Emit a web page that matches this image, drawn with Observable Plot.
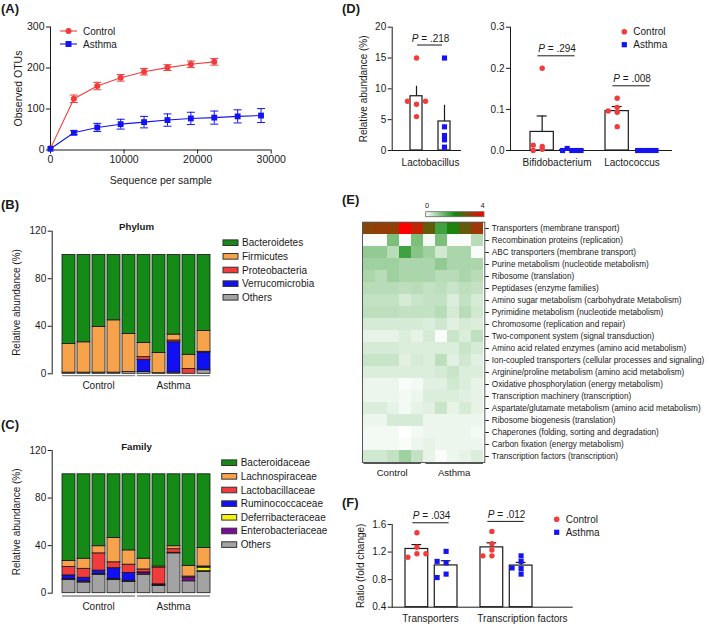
<!DOCTYPE html>
<html>
<head>
<meta charset="utf-8">
<script src="https://cdn.jsdelivr.net/npm/d3@7"></script>
<script src="https://cdn.jsdelivr.net/npm/@observablehq/plot@0.6"></script>
<style>
  html, body { margin: 0; padding: 0; background: #fff; }
  #root { position: relative; width: 709px; height: 626px; overflow: hidden; background: #fff; }
</style>
</head>
<body>
<div id="root"></div>
<script>
// ================= DATA =================
// (A) rarefaction curves
const rarefactionDepth = [0, 3180, 6360, 9540, 12720, 15900, 19080, 22260, 25440, 28620];
const controlOTUs    = [4, 125, 156, 176, 191, 201, 209, 215];
const controlOTUsSEM = [0, 9, 9, 8, 8, 7, 8, 8];
const asthmaOTUs     = [3, 42, 55, 63, 68, 73, 77, 79, 82, 84];
const asthmaOTUsSEM  = [0, 5, 10, 12, 14, 15, 15, 16, 16, 17];

// samples (5 control + 5 asthma)
const samples = ["C1", "C2", "C3", "C4", "C5", "A1", "A2", "A3", "A4", "A5"];
const groupNames = ["Control", "Asthma"];

// (B) phylum composition (%)
const phylumTaxa = ["Bacteroidetes", "Firmicutes", "Proteobacteria", "Verrucomicrobia", "Others"];
const phylumColors = ["#168a16", "#f7a34c", "#f23c3c", "#1010f2", "#a3a3a3"];
const bacteroidetes   = [75, 73.5, 60.5, 55, 66.5, 74, 82.5, 67, 84, 64];
const firmicutes      = [24, 25.5, 38.5, 44, 32, 12, 17, 5, 12, 17.5];
const proteobacteria  = [0, 0, 0, 0, 0, 2.5, 0, 1.5, 4, 0.5];
const verrucomicrobia = [0, 0, 0, 0, 0, 10, 0, 25.5, 0, 15];
const phylumOthers    = [1, 1, 1, 1, 1.5, 1.5, 0.5, 1, 0, 3];

// (C) family composition (%)
const familyTaxa = ["Bacteroidaceae", "Lachnospiraceae", "Lactobacillaceae", "Ruminococcaceae", "Deferribacteraceae", "Enterobacteriaceae", "Others"];
const familyColors = ["#168a16", "#f7a34c", "#f23c3c", "#1010f2", "#f2f20c", "#7a0c9c", "#a3a3a3"];
const bacteroidaceae     = [73, 71, 60.5, 53.5, 64, 71, 77.5, 60.5, 77, 62];
const lachnospiraceae    = [5, 8.5, 6, 20.5, 12, 9, 1, 2.5, 9, 15.5];
const lactobacillaceae   = [7, 7.5, 14.5, 5, 7, 2.5, 14, 3, 1, 0.5];
const ruminococcaceae    = [3, 3, 3, 9, 6.5, 0.5, 0.5, 0, 0, 0.5];
const deferribacteraceae = [0, 0, 0, 0, 0, 0, 0, 0, 0, 3];
const enterobacteriaceae = [1, 1, 0.5, 1, 1, 1.5, 1, 0.5, 3, 0.5];
const familyOthers       = [11, 9, 15.5, 11, 9.5, 15.5, 6, 33.5, 10, 18];

// (D) genus relative abundance (%), per mouse
const genusLeft = ["Lactobacillus"];
const lactobacillusControl = [15, 7.5, 8, 8, 5.5];
const lactobacillusAsthma  = [15, 3.84, 2.43, 1.73, 0.54];
const lactobacillusP = [".218"];
const genusRight = ["Bifidobacterium", "Lactococcus"];
const bifidobacteriumControl = [0.2, 0.01, 0.013, 0.003, 0.0];
const bifidobacteriumAsthma  = [0, 0.005, 0, 0, 0];
const lactococcusControl     = [0.127, 0.093, 0.105, 0.096, 0.058];
const lactococcusAsthma      = [0, 0, 0, 0, 0];
const genusRightP = [".294", ".008"];

// (E) predicted pathway heatmap (rows x samples)
const pathways = [
  "Transporters (membrane transport)",
  "Recombination proteins (replication)",
  "ABC transporters (membrane transport)",
  "Purine metabolism (nucleotide metabolism)",
  "Ribosome (translation)",
  "Peptidases (enzyme families)",
  "Amino sugar metabolism (carbohydrate Metabolism)",
  "Pyrimidine metabolism (nucleotide metabolism)",
  "Chromosome (replication and repair)",
  "Two-component system (signal transduction)",
  "Amino acid related enzymes (amino acid metabolism)",
  "Ion-coupled transporters (cellular processes and signaling)",
  "Arginine/proline metabolism (amino acid metabolism)",
  "Oxidative phosphorylation (energy metabolism)",
  "Transcription machinery (transcription)",
  "Aspartate/glutamate metabolism (amino acid metabolism)",
  "Ribosome biogenesis (translation)",
  "Chaperones (folding, sorting and degradation)",
  "Carbon fixation (energy metabolism)",
  "Transcription factors (transcription)"
];
const pathwayScores = [
  [3.0, 3.1, 3.1, 4.0, 3.5, 2.7, 1.6, 2.1, 2.7, 3.2],
  [0.05, 0.05, 1.1, 0.05, 1.1, 0.1, 1.1, 0.05, 0.05, 0.6],
  [0.9, 0.9, 0.6, 1.6, 1.0, 0.8, 0.4, 0.7, 0.7, 0.05],
  [0.8, 0.8, 0.8, 0.7, 0.7, 0.7, 0.9, 0.7, 0.7, 0.7],
  [0.7, 0.6, 0.8, 0.7, 0.7, 0.7, 0.6, 0.6, 0.7, 0.6],
  [0.6, 0.6, 0.6, 0.55, 0.6, 0.5, 0.55, 0.45, 0.55, 0.5],
  [0.5, 0.5, 0.5, 0.35, 0.45, 0.5, 0.5, 0.3, 0.5, 0.35],
  [0.55, 0.55, 0.55, 0.5, 0.5, 0.5, 0.6, 0.35, 0.6, 0.4],
  [0.35, 0.35, 0.35, 0.35, 0.35, 0.3, 0.4, 0.25, 0.35, 0.3],
  [0.2, 0.2, 0.2, 0.3, 0.2, 0.35, 0.05, 0.45, 0.3, 0.55],
  [0.35, 0.35, 0.35, 0.3, 0.3, 0.3, 0.3, 0.3, 0.45, 0.35],
  [0.45, 0.45, 0.45, 0.25, 0.35, 0.3, 0.55, 0.25, 0.4, 0.25],
  [0.3, 0.3, 0.3, 0.3, 0.3, 0.3, 0.35, 0.45, 0.3, 0.3],
  [0.15, 0.15, 0.15, 0.05, 0.1, 0.25, 0.25, 0.4, 0.3, 0.2],
  [0.15, 0.15, 0.15, 0.1, 0.15, 0.3, 0.3, 0.3, 0.25, 0.2],
  [0.3, 0.3, 0.2, 0.1, 0.2, 0.25, 0.45, 0.2, 0.35, 0.2],
  [0.15, 0.15, 0.35, 0.35, 0.35, 0.15, 0.15, 0.15, 0.15, 0.15],
  [0.1, 0.1, 0.1, 0.0, 0.1, 0.15, 0.15, 0.15, 0.15, 0.1],
  [0.1, 0.1, 0.1, 0.05, 0.15, 0.2, 0.15, 0.15, 0.15, 0.15],
  [0.4, 0.4, 0.5, 0.8, 0.5, 0.2, 0.05, 0.15, 0.2, 0.3]
];

// (F) fold change ratios
const geneSets = ["Transporters", "Transcription factors"];
const transportersControl = [1.48, 1.27, 1.175, 1.125, 1.175];
const transportersAsthma  = [1.21, 1.045, 1.065, 0.88, 0.83];
const tfControl = [1.5, 1.32, 1.23, 1.145, 1.145];
const tfAsthma  = [1.145, 1.065, 0.96, 0.97, 0.88];
const geneSetP = [".034", ".012"];

// ================= HELPERS =================
const FONT = 'Arial, "Liberation Sans", Helvetica, sans-serif';
const RED = "#f23c3c", BLUE = "#1414f0", INK = "#1a1a1a";
const root = document.getElementById("root");
const baseStyle = {background: "transparent", fontFamily: FONT, fontSize: "10px", color: INK, overflow: "visible"};

function place(el, left, top) {
  el.style.position = "absolute";
  el.style.left = left + "px";
  el.style.top = top + "px";
  el.style.maxWidth = "none";
  root.appendChild(el);
  return el;
}

// Prism-like horizontal spreading of points that nearly coincide vertically
function swarmOffsets(values, toPx, thresh = 4, wide = 9, narrow = 4.6) {
  const rows = [];
  values.forEach((v, i) => {
    const p = toPx(v);
    const row = rows.find(r => Math.abs(r.last - p) < thresh);
    if (row) { row.members.push(i); row.last = p; } else rows.push({last: p, members: [i]});
  });
  const slots = [0, -1, 1, -2, 2, -3, 3];
  const out = values.map(() => 0);
  rows.forEach(r => {
    const s = r.members.length <= 3 ? wide : narrow;
    r.members.forEach((i, k) => out[i] = slots[k] * s);
  });
  return out;
}

// ================= (A) =================
const ctrlA = controlOTUs.map((v, i) => ({depth: rarefactionDepth[i], otus: v, sem: controlOTUsSEM[i]}));
const asthA = asthmaOTUs.map((v, i) => ({depth: rarefactionDepth[i], otus: v, sem: asthmaOTUsSEM[i]}));
const capSymbol = {draw(ctx, size) { const w = Math.sqrt(size / Math.PI); ctx.moveTo(-w, 0); ctx.lineTo(w, 0); }};

function errMarks(data, color) {
  const e = data.filter(d => d.sem > 0);
  return [
    Plot.ruleX(e, {x: "depth", y1: d => d.otus - d.sem, y2: d => d.otus + d.sem, stroke: color, strokeWidth: 1}),
    Plot.dot(e, {x: "depth", y: d => d.otus + d.sem, symbol: capSymbol, r: 4, stroke: color, fill: "none", strokeWidth: 1}),
    Plot.dot(e, {x: "depth", y: d => d.otus - d.sem, symbol: capSymbol, r: 4, stroke: color, fill: "none", strokeWidth: 1})
  ];
}

const plotA = Plot.plot({
  width: 300, height: 195,
  marginLeft: 50, marginRight: 29.3, marginTop: 26.5, marginBottom: 45.5,
  style: baseStyle,
  x: {domain: [0, 30000]},
  y: {domain: [0, 300]},
  marks: [
    Plot.axisX({ticks: [0, 10000, 20000, 30000], tickFormat: d => String(d), tickSize: 4, tickPadding: 2, fontSize: 10.5,
      label: "Sequence per sample", labelAnchor: "center", labelArrow: "none", labelOffset: 33.5}),
    Plot.axisY({ticks: [0, 100, 200, 300], tickSize: 4, tickPadding: 2, fontSize: 10.5,
      label: "Observed OTUs", labelAnchor: "center", labelArrow: "none", labelOffset: 36}),
    Plot.ruleX([0], {stroke: INK}),
    Plot.ruleY([0], {stroke: INK}),
    Plot.line(ctrlA, {x: "depth", y: "otus", stroke: RED, strokeWidth: 1.1}),
    Plot.line(asthA, {x: "depth", y: "otus", stroke: BLUE, strokeWidth: 1.1}),
    ...errMarks(ctrlA, RED),
    ...errMarks(asthA, BLUE),
    Plot.dot(ctrlA, {x: "depth", y: "otus", r: 3, fill: RED}),
    Plot.dot(asthA, {x: "depth", y: "otus", r: 3.3, symbol: "square", fill: BLUE})
  ]
});
place(plotA, 0, 0);

// ================= (B), (C) =================
function stackedPlot(taxa, series, colors, top, height, mt, mb) {
  const rows = [];
  samples.forEach((s, i) => {
    for (let k = taxa.length - 1; k >= 0; k--) {
      const v = series[k][i];
      if (v > 0) rows.push({sample: s, taxon: taxa[k], value: v});
    }
  });
  const p = Plot.plot({
    width: 340, height,
    marginLeft: 51.7, marginRight: 125, marginTop: mt, marginBottom: mb,
    style: baseStyle,
    x: {domain: samples, range: [59, 212.7], paddingInner: 0.145, paddingOuter: 0, axis: null},
    y: {domain: [0, 120]},
    color: {domain: taxa, range: colors},
    marks: [
      Plot.axisY({ticks: [0, 40, 80, 120], tickSize: 4, tickPadding: 2, fontSize: 10,
        label: "Relative abundance (%)", labelAnchor: "center", labelArrow: "none", labelOffset: 39}),
      Plot.frame({anchor: "left", stroke: INK}),
      Plot.barY(rows, {x: "sample", y: "value", fill: "taxon", stroke: "#151515", strokeWidth: 0.8})
    ]
  });
  return place(p, 0, top);
}
const plotB = stackedPlot(phylumTaxa, [bacteroidetes, firmicutes, proteobacteria, verrucomicrobia, phylumOthers], phylumColors, 205, 200, 25.7, 31.7);
const plotC = stackedPlot(familyTaxa, [bacteroidaceae, lachnospiraceae, lactobacillaceae, ruminococcaceae, deferribacteraceae, enterobacteriaceae, familyOthers], familyColors, 420, 206, 30, 33.3);

// ================= (D), (F) grouped bar + scatter =================
function groupedPlot(cfg) {
  const {groups, control, asthma, pLabels, yDomain, yTicks, tickFmt, left, top, width, height,
         ml, mr, mt, mb, xRange, paddingInner, yLabel, yLabelOffset, bracketDy, leftAlignLabels} = cfg;
  const n = groups.length;
  const step = (xRange[1] - xRange[0]) / (n - paddingInner);
  const bw = step * (1 - paddingInner);
  const inset = bw * 0.56, d = inset / 2, hc = 5;
  const yPx = d3.scaleLinear(yDomain, [height - mt - mb, 0]);
  const summ = [], pts = [];
  groups.forEach((g, gi) => {
    [["Control", control[gi]], ["Asthma", asthma[gi]]].forEach(([cond, vals]) => {
      const mean = d3.mean(vals);
      const sem = (d3.deviation(vals) || 0) / Math.sqrt(vals.length);
      summ.push({group: g, cond, mean, top: mean + sem});
      const offs = swarmOffsets(vals, yPx);
      vals.forEach((v, i) => pts.push({group: g, cond, value: v,
        dx: Math.round(((cond === "Control" ? -d : d) + offs[i]) * 10) / 10}));
    });
  });
  const ctrlS = summ.filter(s => s.cond === "Control"), asthS = summ.filter(s => s.cond === "Asthma");
  const brackets = groups.map((g, gi) => ({
    group: g, p: pLabels[gi],
    y: d3.max([...control[gi], ...asthma[gi], ...summ.filter(s => s.group === g).map(s => s.top)])
  }));
  const dotMarks = [];
  for (const cond of groupNames) {
    const byDx = d3.group(pts.filter(p => p.cond === cond), p => p.dx);
    for (const [dx, arr] of byDx) {
      dotMarks.push(Plot.dot(arr, {x: "group", y: "value", dx,
        symbol: cond === "Control" ? "circle" : "square", r: cond === "Control" ? 2.7 : 2.9,
        fill: cond === "Control" ? RED : BLUE}));
    }
  }
  const p = Plot.plot({
    width, height, marginLeft: ml, marginRight: mr, marginTop: mt, marginBottom: mb,
    style: baseStyle,
    x: {domain: groups, range: xRange, paddingInner, paddingOuter: 0},
    y: {domain: yDomain},
    marks: [
      Plot.axisY({ticks: yTicks, tickFormat: tickFmt, tickSize: 4, tickPadding: 2, fontSize: 10,
        label: yLabel, labelAnchor: "center", labelArrow: "none", labelOffset: yLabelOffset}),
      leftAlignLabels
        ? Plot.axisX({tickSize: 0, tickPadding: 8, label: null, fontSize: 10, textAnchor: "start", dx: -bw / 2 - 3})
        : Plot.axisX({tickSize: 0, tickPadding: 8, label: null, fontSize: 10}),
      Plot.frame({anchor: "left", stroke: INK}),
      Plot.frame({anchor: "bottom", stroke: INK}),
      Plot.barY(ctrlS, {x: "group", y1: yDomain[0], y2: "mean", fill: "white", stroke: INK, strokeWidth: 1.2, insetRight: inset}),
      Plot.barY(asthS, {x: "group", y1: yDomain[0], y2: "mean", fill: "white", stroke: INK, strokeWidth: 1.2, insetLeft: inset}),
      Plot.ruleX(ctrlS, {x: "group", y1: "mean", y2: "top", dx: -d, stroke: INK, strokeWidth: 1.2}),
      Plot.ruleX(asthS, {x: "group", y1: "mean", y2: "top", dx: d, stroke: INK, strokeWidth: 1.2}),
      Plot.tickY(ctrlS, {x: "group", y: "top", insetLeft: bw / 2 - d - hc, insetRight: bw / 2 + d - hc, stroke: INK, strokeWidth: 1.2}),
      Plot.tickY(asthS, {x: "group", y: "top", insetLeft: bw / 2 + d - hc, insetRight: bw / 2 - d - hc, stroke: INK, strokeWidth: 1.2}),
      ...dotMarks,
      Plot.tickY(brackets, {x: "group", y: "y", dy: bracketDy, insetLeft: 0.14 * bw, insetRight: 0.16 * bw, stroke: INK, strokeWidth: 1}),
      Plot.text(brackets, {x: "group", y: "y", text: () => "P", fontStyle: "italic", textAnchor: "end",
        dx: -12, dy: bracketDy - 3.5, lineAnchor: "bottom", fontSize: 10, fill: INK}),
      Plot.text(brackets, {x: "group", y: "y", text: b => "\u00a0= " + b.p, textAnchor: "start",
        dx: -12, dy: bracketDy - 3.5, lineAnchor: "bottom", fontSize: 10, fill: INK})
    ]
  });
  return place(p, left, top);
}

groupedPlot({
  groups: genusLeft, control: [lactobacillusControl], asthma: [lactobacillusAsthma], pLabels: lactobacillusP,
  yDomain: [0, 20], yTicks: [0, 5, 10, 15, 20], tickFmt: d => String(d),
  left: 340, top: 0, width: 135, height: 180, ml: 51.7, mr: 15, mt: 26.7, mb: 30,
  xRange: [65, 115], paddingInner: 0.195, yLabel: "Relative abundance (%)", yLabelOffset: 32, bracketDy: -13
});
groupedPlot({
  groups: genusRight, control: [bifidobacteriumControl, lactococcusControl], asthma: [bifidobacteriumAsthma, lactococcusAsthma],
  pLabels: genusRightP, yDomain: [0, 0.3], yTicks: [0, 0.1, 0.2, 0.3], tickFmt: d3.format(".1f"),
  left: 475, top: 0, width: 234, height: 180, ml: 35, mr: 38, mt: 26.7, mb: 30,
  xRange: [54.3, 182.8], paddingInner: 0.298, yLabel: null, yLabelOffset: 30, bracketDy: -12.5
});
groupedPlot({
  groups: geneSets, control: [transportersControl, tfControl], asthma: [transportersAsthma, tfAsthma],
  pLabels: geneSetP, yDomain: [0.4, 1.6], yTicks: [0.4, 0.8, 1.2, 1.6], tickFmt: d3.format(".1f"),
  left: 340, top: 480, width: 369, height: 146, ml: 51.7, mr: 137.3, mt: 44, mb: 19.3,
  xRange: [65, 192.3], paddingInner: 0.303, yLabel: "Ratio (fold change)", yLabelOffset: 35, bracketDy: -10,
  leftAlignLabels: true
});

// ================= (E) heatmap =================
const cells = [];
pathways.forEach((pw, r) => pathwayScores[r].forEach((v, c) => cells.push({pathway: pw, sample: samples[c], value: v})));
const plotE = Plot.plot({
  width: 369, height: 300,
  marginLeft: 22, marginRight: 224.7, marginTop: 41.7, marginBottom: 18,
  style: baseStyle,
  x: {domain: samples, padding: 0, axis: null},
  y: {domain: pathways, padding: 0},
  color: {type: "linear", domain: [0, 2, 4], range: ["#ffffff", "#0f8a0f", "#ff0000"], interpolate: "rgb"},
  marks: [
    Plot.cell(cells, {x: "sample", y: "pathway", fill: "value", shapeRendering: "crispEdges"}),
    Plot.frame({stroke: "#555", strokeWidth: 1}),
    Plot.axisY({anchor: "right", tickSize: 3.5, tickPadding: 3.5, fontSize: 8.2, label: null})
  ]
});
place(plotE, 340, 180);

// ================= Overlay: panel letters, legends, group brackets =================
const ov = d3.create("svg").attr("width", 709).attr("height", 626)
  .style("position", "absolute").style("left", "0px").style("top", "0px")
  .style("font-family", FONT).style("overflow", "visible");
function txt(x, y, s, o = {}) {
  return ov.append("text").attr("x", x).attr("y", y)
    .attr("font-size", o.size || 10).attr("font-weight", o.weight || "normal")
    .attr("text-anchor", o.anchor || "start").attr("dominant-baseline", o.baseline || "central")
    .attr("fill", INK).text(s);
}
function seg(x1, y1, x2, y2, stroke = INK, w = 1) {
  ov.append("line").attr("x1", x1).attr("y1", y1).attr("x2", x2).attr("y2", y2)
    .attr("stroke", stroke).attr("stroke-width", w);
}
// panel letters
[["(A)", 1, 13], ["(B)", 1, 209], ["(C)", 1, 429], ["(D)", 342, 13], ["(E)", 342, 204], ["(F)", 342, 507]]
  .forEach(([s, x, y]) => txt(x, y, s, {size: 13, weight: "bold", baseline: "alphabetic"}));

// (A) legend
[[groupNames[0], RED, 31], [groupNames[1], BLUE, 44]].forEach(([name, col, y], i) => {
  seg(60, y, 77, y, col, 1.1);
  if (i === 0) ov.append("circle").attr("cx", 68.5).attr("cy", y).attr("r", 3).attr("fill", col);
  else ov.append("rect").attr("x", 65.5).attr("y", y - 3).attr("width", 6).attr("height", 6).attr("fill", col);
  txt(83, y, name, {size: 10});
});

// (B)/(C) titles, legends, group brackets
function stackedDecor(plot, top, title, titleY, taxa, colors, legX, legY0, lineY, labY) {
  txt(136.5, titleY, title, {size: 9.7, weight: "bold", anchor: "middle"});
  taxa.forEach((t, i) => {
    const y = legY0 + i * 13.65;
    ov.append("rect").attr("x", legX).attr("y", y - 2.8).attr("width", 15).attr("height", 5.6)
      .attr("fill", colors[i]).attr("stroke", "#333").attr("stroke-width", 1);
    txt(legX + 19, y, t, {size: 10});
  });
  const sx = plot.scale("x");
  [[samples.slice(0, 5), groupNames[0]], [samples.slice(5), groupNames[1]]].forEach(([ss, name]) => {
    const x1 = sx.apply(ss[0]), x2 = sx.apply(ss[ss.length - 1]) + sx.bandwidth;
    seg(x1, lineY, x2, lineY, "#8a8a8a", 1.3);
    txt((x1 + x2) / 2, labY, name, {size: 10, anchor: "middle"});
  });
}
stackedDecor(plotB, 205, "Phylum", 226.7, phylumTaxa, phylumColors, 223, 242.7, 375.7, 385);
stackedDecor(plotC, 420, "Family", 446.7, familyTaxa, familyColors, 221.7, 462.7, 596, 606);

// (D)/(F) legends
function dotLegend(x, y0) {
  ov.append("circle").attr("cx", x).attr("cy", y0).attr("r", 2.8).attr("fill", RED);
  ov.append("rect").attr("x", x - 2.6).attr("y", y0 + 13 - 2.6).attr("width", 5.2).attr("height", 5.2).attr("fill", BLUE);
  txt(x + 9, y0, groupNames[0], {size: 10});
  txt(x + 9, y0 + 13, groupNames[1], {size: 10});
}
dotLegend(624.3, 31.7);
dotLegend(556.7, 519.3);

// (E) colour bar + group brackets
const heatColor = plotE.scale("color");
const grad = ov.append("defs").append("linearGradient").attr("id", "heatgrad");
d3.range(0, 4.001, 0.25).forEach(v => grad.append("stop").attr("offset", (v / 4 * 100) + "%").attr("stop-color", heatColor.apply(v)));
ov.append("rect").attr("x", 425.7).attr("y", 211.7).attr("width", 58.3).attr("height", 5)
  .attr("fill", "url(#heatgrad)").attr("stroke", "#666").attr("stroke-width", 0.8);
txt(427, 205.3, "0", {size: 7.5, anchor: "middle"});
txt(482.5, 205.3, "4", {size: 7.5, anchor: "middle"});
const hx = plotE.scale("x");
[[samples.slice(0, 5), groupNames[0], 0.5, -2.2], [samples.slice(5), groupNames[1], 2.4, 0]].forEach(([ss, name, a, b]) => {
  const x1 = 340 + hx.apply(ss[0]) + a, x2 = 340 + hx.apply(ss[ss.length - 1]) + hx.bandwidth + b;
  seg(x1, 463.5, x2, 463.5, "#555", 1.2);
  txt((x1 + x2) / 2, 472.5, name, {size: 9.6, anchor: "middle"});
});

root.appendChild(ov.node());
</script>
</body>
</html>
